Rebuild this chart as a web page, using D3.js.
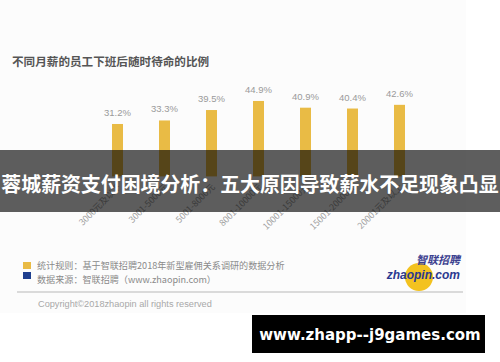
<!DOCTYPE html>
<html><head><meta charset="utf-8">
<script src="https://cdn.jsdelivr.net/npm/d3@7/dist/d3.min.js"></script>
<style>
html,body{margin:0;padding:0;background:#fff;}
svg{display:block;}
</style></head>
<body>
<svg id="c" width="500" height="362"></svg>
<script>
const categories = ["3000元及以下","3001-5000元","5001-8000元","8001-10000元","10001-15000元","15001-20000元","20001元及以上"];
const values = [31.2, 33.3, 39.5, 44.9, 40.9, 40.4, 42.6];
const valueLabels = ["31.2%","33.3%","39.5%","44.9%","40.9%","40.4%","42.6%"];
const chartTitle = "不同月薪的员工下班后随时待命的比例";
const bannerText = "蓉城薪资支付困境分析：五大原因导致薪水不足现象凸显";
const legendItems = ["统计规则：基于智联招聘2018年新型雇佣关系调研的数据分析","数据来源：智联招聘（www.zhaopin.com）"];
const legendColors = ["#e9bb45","#1f3f8f"];
const copyright = "Copyright©2018zhaopin all rights reserved";
const watermark = "www.zhapp--j9games.com";

const CJK = "'Noto Sans CJK SC','Liberation Sans',sans-serif";
const LAT = "'Liberation Sans','Noto Sans CJK SC',sans-serif";
const svg = d3.select("#c");

svg.append("rect").attr("x",0).attr("y",0).attr("width",466).attr("height",313).attr("fill","#fcfcfc");

svg.append("text").attr("x",12).attr("y",66).text(chartTitle)
  .attr("font-family",CJK).attr("font-size",11.6).attr("font-weight","bold").attr("fill","#555");

const x = d3.scaleBand().domain(categories).range([94,423]).paddingInner(0.766).paddingOuter(0.383);
const y = d3.scaleLinear().domain([0,50]).range([176.4,92.4]);

const g = svg.append("g");
g.selectAll("rect.bar").data(values).join("rect").attr("class","bar")
  .attr("x",(d,i)=>x(categories[i])).attr("width",x.bandwidth())
  .attr("y",d=>y(d)).attr("height",d=>y(0)-y(d)).attr("fill","#e9bb45");

g.selectAll("text.val").data(values).join("text").attr("class","val")
  .attr("x",(d,i)=>x(categories[i])+x.bandwidth()/2).attr("y",d=>y(d)-8)
  .attr("text-anchor","middle").attr("font-family",LAT).attr("font-size",9.5)
  .attr("fill","#9a9a9a").text((d,i)=>valueLabels[i]);

const axis = d3.axisBottom(x).tickSize(0).tickPadding(0);
const ax = svg.append("g").attr("transform",`translate(0,${y(0)})`).call(axis);
ax.select(".domain").remove();
ax.selectAll("text").attr("font-family",CJK).attr("font-size",8.8).attr("fill","#a0a0a0")
  .attr("text-anchor","end").attr("dy",0).attr("y",0)
  .attr("transform","translate(4,11) rotate(-45)");

svg.append("rect").attr("x",0).attr("y",150).attr("width",500).attr("height",62).attr("fill","rgba(0,0,0,0.63)");
svg.append("text").attr("x",250).attr("y",192).attr("text-anchor","middle").text(bannerText)
  .attr("font-family",CJK).attr("font-size",19.9).attr("font-weight","bold").attr("fill","#fff");

const lg = svg.append("g");
legendItems.forEach((t,i)=>{
  lg.append("rect").attr("x",23).attr("y",262+i*10).attr("width",8).attr("height",7).attr("fill",legendColors[i]);
  lg.append("text").attr("x",37).attr("y",268.5+i*14).text(t)
    .attr("font-family",CJK).attr("font-size",9.1).attr("fill","#8a8a8a");
});

svg.append("circle").attr("cx",419).attr("cy",277).attr("r",14).attr("fill","#f3c21f");
svg.append("text").attr("x",460).attr("y",264).attr("text-anchor","end").text("智联招聘")
  .attr("font-family",CJK).attr("font-size",11).attr("font-weight","bold").attr("font-style","italic").attr("fill","#3b3f8f");
svg.append("text").attr("x",460).attr("y",279).attr("text-anchor","end").text("zhaopin.com")
  .attr("font-family",LAT).attr("font-size",12).attr("font-weight","bold").attr("font-style","italic").attr("fill","#2b3990");

svg.append("line").attr("x1",17).attr("x2",463).attr("y1",292).attr("y2",292).attr("stroke","#cfcfcf").attr("stroke-width",1.5);
svg.append("text").attr("x",38).attr("y",307).text(copyright)
  .attr("font-family",LAT).attr("font-size",9.2).attr("fill","#a8a8a8");

svg.append("rect").attr("x",252).attr("y",315).attr("width",233).attr("height",38).attr("fill","#000");
svg.append("text").attr("x",370).attr("y",340).attr("text-anchor","middle").text(watermark)
  .attr("font-family","'DejaVu Sans',sans-serif").attr("font-size",15).attr("font-weight","bold").attr("fill","#fff");
</script>
</body></html>
